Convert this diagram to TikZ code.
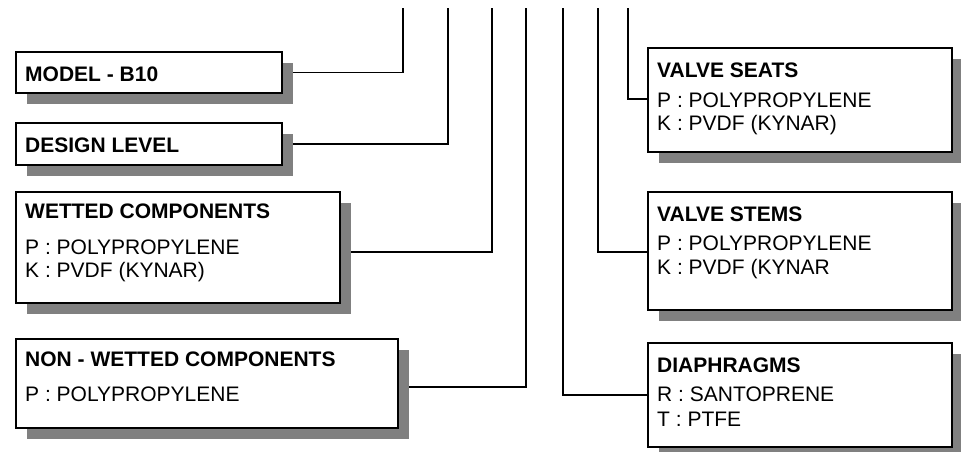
\documentclass[tikz,border=0pt]{standalone}
\usepackage{fontspec}
\setmainfont{Liberation Sans}
\usetikzlibrary{shadows}
\definecolor{shadowgray}{HTML}{808080}
\begin{document}
\begin{tikzpicture}[x=1pt,y=-1pt,
  box/.style={draw, line width=2pt, fill=white, inner sep=0pt, outer sep=0pt, rectangle,
    drop shadow={shadow xshift=10.5pt, shadow yshift=-11pt, fill=shadowgray, opacity=1}},
  wire/.style={line width=1.8pt},
  head/.style={anchor=base west, inner sep=0pt, font=\bfseries\fontsize{21}{25}\selectfont},
  item/.style={anchor=base west, inner sep=0pt, font=\fontsize{21}{25}\selectfont}]
\fill[white] (0,0) rectangle (961,451);
\useasboundingbox (0,0) rectangle (961,451);
% top ends of connectors
\coordinate (t1) at (403,8);
\coordinate (t2) at (448,8);
\coordinate (t3) at (492,8);
\coordinate (t4) at (526,8);
\coordinate (t5) at (563,8);
\coordinate (t6) at (598,8);
\coordinate (t7) at (628,8);
% box anchors (invisible placeholders for connectors)
\coordinate (model) at (282,72.5);
\coordinate (design) at (282,144);
\coordinate (wetc) at (340,252);
\coordinate (nonwetc) at (398,387);
\coordinate (seatsc) at (648,99);
\coordinate (stemsc) at (648,252);
\coordinate (diaphc) at (648,395);
% connectors
\draw[wire] (model) -| (t1);
\draw[wire] (design) -| (t2);
\draw[wire] (wetc) -| (t3);
\draw[wire] (nonwetc) -| (t4);
\draw[wire] (diaphc) -| (t5);
\draw[wire] (stemsc) -| (t6);
\draw[wire] (seatsc) -| (t7);
% boxes
\node[box, minimum width=266pt, minimum height=41pt] (bmodel) at (149,72.5) {};
\node[box, minimum width=266pt, minimum height=42pt] (bdesign) at (149,144) {};
\node[box, minimum width=324pt, minimum height=111pt] (bwet) at (178,247.5) {};
\node[box, minimum width=382pt, minimum height=89pt] (bnonwet) at (207,383.5) {};
\node[box, minimum width=304pt, minimum height=104pt] (bseats) at (800,100) {};
\node[box, minimum width=304pt, minimum height=118pt] (bstems) at (800,251) {};
\node[box, minimum width=304pt, minimum height=104pt] (bdiaph) at (800,395) {};
% texts
\node[head] (h1) at (25,81) {MODEL - B10};
\node[head] (h2) at (25,152) {DESIGN LEVEL};
\node[head] (h3) at (25,218) {WETTED COMPONENTS};
\node[item] (h3a) at (25,254) {P : POLYPROPYLENE};
\node[item] (h3b) at (25,277.3) {K : PVDF (KYNAR)};
\node[head] (h4) at (25,366.5) {NON - WETTED COMPONENTS};
\node[item] (h4a) at (25,401.5) {P : POLYPROPYLENE};
\node[head] (h5) at (657,77.5) {VALVE SEATS};
\node[item] (h5a) at (657,107.3) {P : POLYPROPYLENE};
\node[item] (h5b) at (657,130.7) {K : PVDF (KYNAR)};
\node[head] (h6) at (657,221.7) {VALVE STEMS};
\node[item] (h6a) at (657,250.7) {P : POLYPROPYLENE};
\node[item] (h6b) at (657,274) {K : PVDF (KYNAR};
\node[head] (h7) at (657,372.3) {DIAPHRAGMS};
\node[item] (h7a) at (657,401.7) {R : SANTOPRENE};
\node[item] (h7b) at (657,426) {T : PTFE};
\end{tikzpicture}
\end{document}
